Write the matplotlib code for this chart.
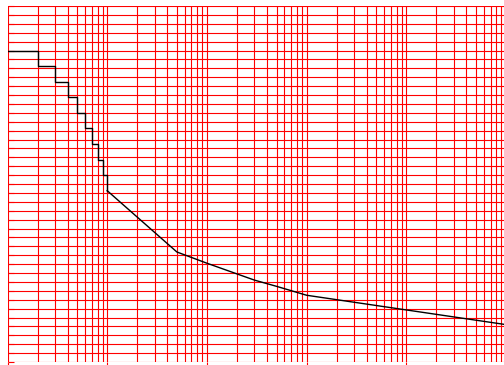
import numpy as np
import matplotlib
matplotlib.use("Agg")
import matplotlib.pyplot as plt
from matplotlib.ticker import LogLocator, MultipleLocator, NullFormatter

# step part (integer x values 1..10)
step_x = [1, 2, 3, 4, 5, 6, 7, 8, 9, 10]
step_y = [35.0, 33.25, 31.5, 29.75, 28.0, 26.25, 24.5, 22.75, 21.0, 19.25]

# continuous tail
tail_x = [10, 50, 100, 200, 300, 500, 1000, 100000]
tail_y = [19.25, 12.36, 11.1, 9.9, 9.2, 8.5, 7.5, 4.2]

x_limits = (1, 1e5)
y_limits = (0, 40)

fig = plt.figure(figsize=(5.04, 3.65), dpi=100)
ax = fig.add_axes([7.5 / 504, 3 / 365, 498.5 / 504, 356 / 365])

ax.set_xscale("log")
ax.set_xlim(*x_limits)
ax.set_ylim(*y_limits)

ax.xaxis.set_major_locator(LogLocator(base=10, numticks=20))
ax.xaxis.set_minor_locator(LogLocator(base=10, subs=np.arange(2, 10), numticks=100))
ax.xaxis.set_major_formatter(NullFormatter())
ax.xaxis.set_minor_formatter(NullFormatter())
ax.yaxis.set_major_locator(MultipleLocator(1))
ax.yaxis.set_major_formatter(NullFormatter())

ax.grid(True, which="both", axis="x", color="#ff0000", linewidth=0.8)
ax.grid(True, which="major", axis="y", color="#ff0000", linewidth=0.8)

ax.tick_params(axis="x", which="major", direction="out", length=3, color="#ff0000", width=0.8)
ax.tick_params(axis="x", which="minor", length=0)
ax.tick_params(axis="y", which="major", direction="in", length=4, color="#ff0000", width=0.8)

for s in ax.spines.values():
    s.set_visible(False)

ax.step(step_x, step_y, where="post", color="black", linewidth=1.0, zorder=3)
ax.plot(tail_x, tail_y, color="black", linewidth=1.0, zorder=3)

fig.savefig("out.png", dpi=100)
